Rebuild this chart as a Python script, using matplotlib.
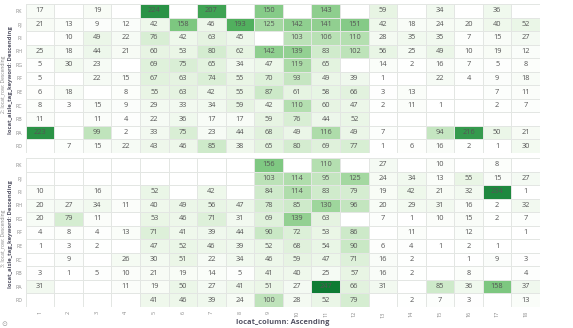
import matplotlib
matplotlib.use("Agg")
import matplotlib.pyplot as plt
import numpy as np
from matplotlib.colors import LinearSegmentedColormap

plt.rcParams['font.family'] = ['Open Sans', 'DejaVu Sans']

rows = ["RK", "RJ", "RI", "RH", "RG", "RF", "RE", "RC", "RB", "RA", "RD"]
columns = [str(i) for i in range(1, 19)]
N = None

top_values = [
    [17, N, 19, N, 224, N, 207, N, 150, N, 143, N, 59, N, 34, N, 36, N],
    [21, 13, 9, 12, 42, 158, 46, 193, 125, 142, 141, 151, 42, 18, 24, 20, 40, 52],
    [N, 10, 49, 22, 76, 42, 63, 45, N, 103, 106, 110, 28, 35, 35, 7, 15, 27],
    [25, 18, 44, 21, 60, 53, 80, 62, 142, 139, 83, 102, 56, 25, 49, 10, 19, 12],
    [5, 30, 23, N, 69, 75, 65, 34, 47, 119, 65, N, 14, 2, 16, 7, 5, 8],
    [5, N, 22, 15, 67, 63, 74, 55, 70, 93, 49, 39, 1, N, 22, 4, 9, 18],
    [6, 18, N, 8, 55, 63, 42, 55, 87, 61, 58, 66, 3, 13, N, N, 7, 11],
    [8, 3, 15, 9, 29, 33, 34, 59, 42, 110, 60, 47, 2, 11, 1, N, 2, 7],
    [11, N, 11, 4, 22, 36, 17, 17, 59, 76, 44, 52, N, N, N, N, N, N],
    [223, N, 99, 2, 33, 75, 23, 44, 68, 49, 116, 49, 7, N, 94, 216, 50, 21],
    [N, 7, 15, 22, 43, 46, 85, 38, 65, 80, 69, 77, 1, 6, 16, 2, 1, 30],
]

bottom_values = [
    [N, N, N, N, N, N, N, N, 156, N, 110, N, 27, N, 10, N, 8, N],
    [N, N, N, N, N, N, N, N, 103, 114, 95, 125, 24, 34, 13, 55, 15, 27],
    [10, N, 16, N, 52, N, 42, N, 84, 114, 83, 79, 19, 42, 21, 32, 234, 1],
    [20, 27, 34, 11, 40, 49, 56, 47, 78, 85, 130, 96, 20, 29, 31, 16, 2, 32],
    [20, 79, 11, N, 53, 46, 71, 31, 69, 139, 63, N, 7, 1, 10, 15, 2, 7],
    [4, 8, 4, 13, 71, 41, 39, 44, 90, 72, 53, 86, N, 11, N, 12, N, 1],
    [1, 3, 2, N, 47, 52, 46, 39, 52, 68, 54, 90, 6, 4, 1, 2, 1, N],
    [N, 9, N, 26, 30, 51, 22, 34, 46, 59, 47, 71, 16, 2, N, 1, 9, 3],
    [3, 1, 5, 10, 21, 19, 14, 5, 41, 40, 25, 57, 16, 2, N, 8, N, 4],
    [31, N, N, 11, 19, 50, 27, 41, 51, 27, 247, 66, 31, N, 85, 36, 158, 37],
    [N, N, N, N, 41, 46, 39, 24, 100, 28, 52, 79, N, 2, 7, 3, N, 13],
]

panel_labels = ["2: locat_row: Descending", "3: locat_row: Descending"]
y_title = "locat_aisle_tag_keyword: Descending"
x_title = "locat_column: Ascending"

cmap = LinearSegmentedColormap.from_list(
    "gr", ["#ffffff", "#e6f4e2", "#a6d9a2", "#5cb865", "#0e7c34"], N=256)

all_vals = [v for r in top_values + bottom_values for v in r if v is not None]
vmax = max(all_vals)

W, H = 573, 328
fig = plt.figure(figsize=(W / 100, H / 100), dpi=100)
fig.patch.set_facecolor("white")

left_px, right_px = 25.7, 540.0
panels = [(top_values, 4, 153), (bottom_values, 158, 307)]
axes = []
for vals, top_px, bot_px in panels:
    ax = fig.add_axes([left_px / W, 1 - bot_px / H, (right_px - left_px) / W, (bot_px - top_px) / H])
    arr = np.array([[np.nan if v is None else v for v in r] for r in vals], dtype=float)
    m = np.ma.masked_invalid(arr)
    ax.pcolormesh(np.arange(len(columns) + 1), np.arange(len(rows) + 1), m,
                  cmap=cmap, vmin=0, vmax=vmax, edgecolors="#e3e6e3", linewidth=0.6)
    for i, r in enumerate(vals):
        for j, v in enumerate(r):
            if v is not None:
                ax.text(j + 0.5, i + 0.5, str(v), ha="center", va="center",
                        fontsize=5.3, color="#555555")
    ax.set_xlim(0, len(columns))
    ax.set_ylim(len(rows), 0)
    ax.set_yticks(np.arange(len(rows)) + 0.5)
    ax.set_yticklabels(rows, fontsize=3.8, color="#888888")
    ax.set_xticks(np.arange(len(columns)) + 0.5)
    ax.tick_params(axis="y", length=0, pad=2.5)
    ax.tick_params(axis="x", length=0, pad=3)
    for s in ax.spines.values():
        s.set_visible(False)
    axes.append(ax)

axes[0].set_xticklabels([])
axes[1].set_xticklabels(columns, fontsize=4, color="#888888", rotation=90)

for k, (vals, top_px, bot_px) in enumerate(panels):
    cy = 1 - ((top_px + bot_px) / 2 + 2) / H
    fig.text(4 / W, 1 - ((top_px + bot_px) / 2 + 6) / H, panel_labels[k], rotation=90,
             ha="center", va="center", fontsize=3.6, color="#888888")
    fig.text(11 / W, cy, y_title, rotation=90, ha="center", va="center",
             fontsize=4.2, color="#555566", fontweight="bold")

fig.text(283 / W, 1 - 323 / H, x_title, ha="center", va="center",
         fontsize=5.4, color="#555566", fontweight="bold")
fig.text(4 / W, 1 - 324 / H, "\u2299", ha="center", va="center", fontsize=5, color="#999999")

fig.savefig("out.png", dpi=100, facecolor="white")
